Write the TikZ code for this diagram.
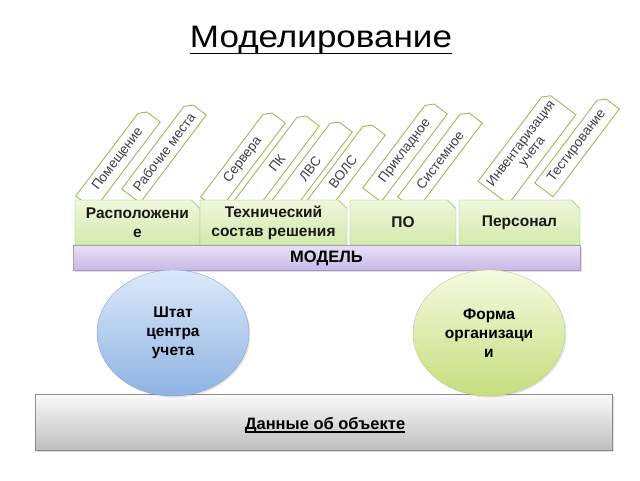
\documentclass[tikz,border=0pt]{standalone}
\usepackage{fontspec}
\setmainfont{Liberation Sans}
\usetikzlibrary{shapes.misc,shapes.geometric,shadows}

\definecolor{tabline}{HTML}{9BBB59}
\definecolor{tabtop}{HTML}{EEF7DC}
\definecolor{tabbot}{HTML}{D3EAAB}
\definecolor{subtext}{HTML}{404040}
\definecolor{modtop}{HTML}{E8E2F6}
\definecolor{modbot}{HTML}{C6B8E6}
\definecolor{modline}{HTML}{A898C8}
\definecolor{bluetop}{HTML}{DDE9F9}
\definecolor{bluebot}{HTML}{8DB3E2}
\definecolor{blueline}{HTML}{8AA4CC}
\definecolor{greentop}{HTML}{F5FAE0}
\definecolor{greenbot}{HTML}{C4DE7C}
\definecolor{greenline}{HTML}{B8CE88}
\definecolor{graytop}{HTML}{FBFBFB}
\definecolor{graybot}{HTML}{BEBEBE}
\definecolor{grayline}{HTML}{8C8C8C}

\tikzset{
  subtab/.style={chamfered rectangle, chamfered rectangle corners=north east,
    chamfered rectangle xsep=3pt, draw=tabline, fill=white, line width=0.9pt,
    minimum width=110pt, minimum height=23pt, inner sep=1pt, rotate=53,
    text=subtext, align=center, font=\fontsize{13.5}{13.5}\selectfont},
  maintab/.style={chamfered rectangle, chamfered rectangle corners=north east,
    chamfered rectangle xsep=5pt, draw=tabline, top color=tabtop, bottom color=tabbot,
    minimum height=45pt, inner sep=1pt, align=center, text=black!90,
    font=\fontsize{15.5}{19}\selectfont\bfseries},
  bar/.style={rectangle, inner sep=0pt, font=\fontsize{16.5}{17}\selectfont\bfseries,
    drop shadow={opacity=0.25, shadow xshift=1.5pt, shadow yshift=-1.5pt}},
  blob/.style={ellipse, inner sep=0pt, minimum width=152pt, minimum height=126pt,
    align=center, font=\fontsize{15.5}{19}\selectfont\bfseries,
    drop shadow={opacity=0.2, shadow xshift=1.5pt, shadow yshift=-1.5pt}}
}

\begin{document}
\begin{tikzpicture}[x=1pt, y=-1pt]
  \useasboundingbox (0,0) rectangle (640,480);

  \node[anchor=base, inner sep=0pt, xscale=1.13, font=\fontsize{31}{34}\selectfont] (title)
    at (321,47) {Моделирование};
  \draw[line width=1.6pt] ([yshift=-6.5pt]title.base west) -- ([yshift=-6.5pt]title.base east);

  % leaves behind the tabs
  \node[subtab] (pom) at (118,159) {Помещение};
  \node[subtab] (rab) at (164,152) {Рабочие места};
  \node[subtab] (srv) at (243,160) {Сервера};
  \node[subtab] (pk)  at (277,163) {ПК};
  \node[subtab] (lvs) at (310,169) {ЛВС};
  \node[subtab] (vols) at (343,172) {ВОЛС};
  \node[subtab] (prik) at (405,151) {Прикладное};
  \node[subtab] (sist) at (440,160) {Системное};
  \node[subtab, minimum height=38pt] (inv) at (527,148) {Инвентаризация\\учета};
  \node[subtab] (test) at (577,146) {Тестирование};

  % tabs
  \node[maintab, minimum width=125pt] (rasp) at (137.5,222.5) {Расположени\\е};
  \node[maintab, minimum width=147pt] (tech) at (273.5,222.5) {Технический\\состав решения};
  \node[maintab, minimum width=106pt] (po)   at (403,222.5) {ПО};
  \node[maintab, minimum width=121pt] (pers) at (519.5,222.5) {Персонал};

  \node[bar, draw=modline, top color=modtop, bottom color=modbot,
    minimum width=507pt, minimum height=25pt] (model) at (326.5,258) {МОДЕЛЬ};

  \node[bar, draw=grayline, top color=graytop, bottom color=graybot,
    minimum width=577pt, minimum height=56pt] (data) at (323.5,422) {};
  \node[anchor=base, inner sep=0pt, font=\fontsize{16.5}{17}\selectfont\bfseries]
    (datatext) at (325,429) {Данные об объекте};
  \draw[line width=1.1pt] ([yshift=-3pt]datatext.base west) -- ([yshift=-3pt]datatext.base east);

  \node[blob, draw=blueline, top color=bluetop, bottom color=bluebot] (shtat) at (173,333)
    {Штат\\центра\\учета};
  \node[blob, draw=greenline, top color=greentop, bottom color=greenbot] (forma) at (489,333)
    {Форма\\организаци\\и};

\end{tikzpicture}
\end{document}
